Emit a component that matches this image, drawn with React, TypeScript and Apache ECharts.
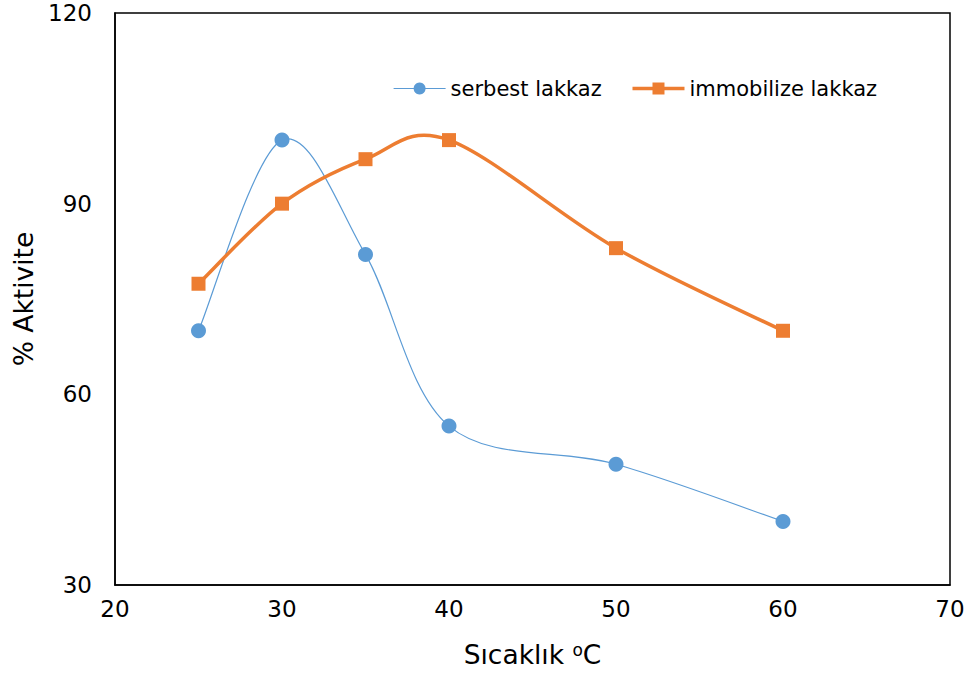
import React, { useEffect, useRef } from "react";
import * as echarts from "echarts";

const temps = [25, 30, 35, 40, 50, 60];
const serbest = [70, 100, 82, 55, 49, 40];
const immobilize = [77.4, 90, 97, 100, 83, 70];
const seriesNames = ["serbest lakkaz", "immobilize lakkaz"];
const yTicks = [30, 60, 90, 120];
const xRange = [20, 70];

const BLUE = "#5B9BD5";
const ORANGE = "#ED7D31";

function smoothPath(pts: number[][]): string {
  let d = `M${pts[0][0]},${pts[0][1]}`;
  for (let i = 0; i < pts.length - 1; i++) {
    const p0 = pts[Math.max(0, i - 1)];
    const p1 = pts[i];
    const p2 = pts[i + 1];
    const p3 = pts[Math.min(pts.length - 1, i + 2)];
    const c1x = p1[0] + (p2[0] - p0[0]) / 6;
    const c1y = p1[1] + (p2[1] - p0[1]) / 6;
    const c2x = p2[0] - (p3[0] - p1[0]) / 6;
    const c2y = p2[1] - (p3[1] - p1[1]) / 6;
    d += ` C${c1x},${c1y} ${c2x},${c2y} ${p2[0]},${p2[1]}`;
  }
  return d;
}

function curveSeries(values: number[], color: string, width: number, z: number) {
  return {
    type: "custom",
    coordinateSystem: "cartesian2d",
    silent: true,
    z,
    data: [[temps[0], values[0]]],
    renderItem: (_params: any, api: any) => {
      const pts = temps.map((t, i) => api.coord([t, values[i]]));
      return {
        type: "path",
        shape: { pathData: smoothPath(pts) },
        style: { stroke: color, fill: "none", lineWidth: width },
      };
    },
  };
}

export default function App() {
  const ref = useRef<HTMLDivElement>(null);
  useEffect(() => {
    const chart = echarts.init(ref.current!, null, { renderer: "svg" });
    const font = "DejaVu Sans, Verdana, sans-serif";
    chart.setOption({
      animation: false,
      backgroundColor: "#fff",
      textStyle: { fontFamily: font },
      grid: {
        left: 115,
        top: 13,
        width: 835,
        height: 572,
        show: true,
        borderColor: "#000",
        borderWidth: 1.5,
      },
      legend: {
        left: 393,
        top: 78,
        padding: 0,
        itemWidth: 52,
        itemHeight: 15,
        itemGap: 29,
        textStyle: { fontSize: 21, color: "#000", fontFamily: font },
        data: [
          { name: seriesNames[0], lineStyle: { opacity: 1, width: 1.2, color: BLUE } },
          { name: seriesNames[1], lineStyle: { opacity: 1, width: 3.5, color: ORANGE } },
        ],
      },
      xAxis: {
        type: "value",
        min: xRange[0],
        max: xRange[1],
        interval: 10,
        axisLine: { show: true, lineStyle: { color: "#000", width: 1.5 } },
        axisTick: { show: false },
        splitLine: { show: false },
        axisLabel: { fontSize: 23, color: "#000", margin: 12, fontFamily: font },
        name: "{a|Sıcaklık }{s|o}{a|C}",
        nameLocation: "middle",
        nameGap: 56,
        nameTextStyle: {
          rich: {
            a: { fontSize: 26.5, color: "#000", fontFamily: font },
            s: { fontSize: 17, color: "#000", fontFamily: font, verticalAlign: "top", padding: [0, 0, 9, 0] },
          },
        },
      },
      yAxis: {
        type: "value",
        min: yTicks[0],
        max: yTicks[yTicks.length - 1],
        interval: 30,
        axisLine: { show: true, lineStyle: { color: "#000", width: 1.5 } },
        axisTick: { show: false },
        splitLine: { show: false },
        axisLabel: { fontSize: 23, color: "#000", margin: 23, fontFamily: font },
        name: "% Aktivite",
        nameLocation: "middle",
        nameGap: 77,
        nameTextStyle: { fontSize: 26.5, color: "#000", fontFamily: font },
      },
      series: [
        curveSeries(serbest, BLUE, 1.2, 1),
        {
          name: seriesNames[0],
          type: "line",
          z: 2,
          data: temps.map((t, i) => [t, serbest[i]]),
          symbol: "circle",
          symbolSize: 15,
          lineStyle: { color: BLUE, width: 1.2, opacity: 0 },
          itemStyle: { color: BLUE },
        },
        curveSeries(immobilize, ORANGE, 3.5, 3),
        {
          name: seriesNames[1],
          type: "line",
          z: 4,
          data: temps.map((t, i) => [t, immobilize[i]]),
          symbol: "rect",
          symbolSize: 14,
          lineStyle: { color: ORANGE, width: 3.5, opacity: 0 },
          itemStyle: { color: ORANGE },
        },
      ],
    });
    return () => chart.dispose();
  }, []);
  return (
    <div
      ref={ref}
      style={{ position: "fixed", left: 0, top: 0, width: 972, height: 675 }}
    />
  );
}
